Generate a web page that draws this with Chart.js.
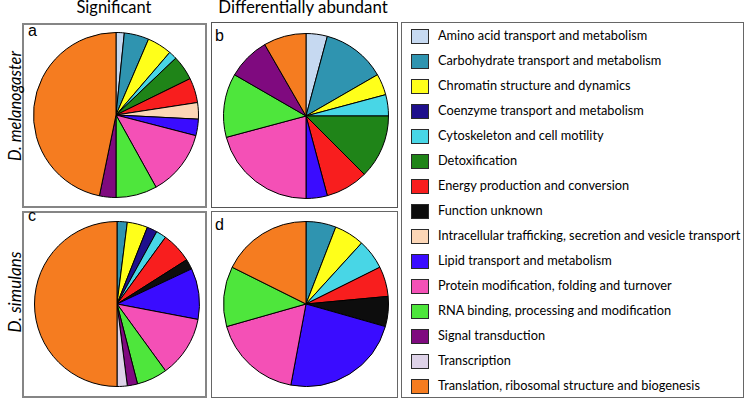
<!DOCTYPE html>
<html>
<head>
<meta charset="utf-8">
<script src="https://cdn.jsdelivr.net/npm/chart.js@4.4.1/dist/chart.umd.min.js"></script>
<style>
  html, body { margin: 0; padding: 0; background: #ffffff; }
  #root { position: relative; width: 750px; height: 399px; overflow: hidden; background: #fff; }
  .box { position: absolute; box-sizing: border-box; }
  .txt { position: absolute; white-space: nowrap; line-height: 1; color: #000; }
  canvas.pie { position: absolute; }
  .sw { position: absolute; box-sizing: border-box; border: 1px solid #2a2a2a; }
</style>
</head>
<body>
<div id="root"></div>
<script>
// ---------- DATA ----------
const categories = [
  "Amino acid transport and metabolism",
  "Carbohydrate transport and metabolism",
  "Chromatin structure and dynamics",
  "Coenzyme transport and metabolism",
  "Cytoskeleton and cell motility",
  "Detoxification",
  "Energy production and conversion",
  "Function unknown",
  "Intracellular trafficking, secretion and vesicle transport",
  "Lipid transport and metabolism",
  "Protein modification, folding and turnover",
  "RNA binding, processing and modification",
  "Signal transduction",
  "Transcription",
  "Translation, ribosomal structure and biogenesis"
];
const categoryColors = [
  "#c6d9f1", "#2f94b0", "#ffff1a", "#1e0f8c", "#48d6e6",
  "#1f8418", "#f81e1e", "#0d0d0d", "#fcd6b6", "#3a0cff",
  "#f450b6", "#4ee63c", "#7f0a7f", "#ded2e8", "#f57c20"
];
// counts per category (same order as categories)
const melanogasterSignificant  = [1, 3, 3, 0, 1, 3, 3, 0, 2, 2, 8, 5, 2, 0, 29];
const melanogasterDifferential = [1, 3, 1, 0, 1, 3, 2, 0, 0, 1, 5, 3, 2, 0, 2];
const simulansSignificant      = [0, 1, 2, 1, 1, 0, 3, 1, 0, 5, 6, 3, 1, 1, 25];
const simulansDifferential     = [0, 1, 1, 0, 1, 0, 1, 1, 0, 4, 3, 2, 0, 0, 3];
const columnTitles = ["Significant", "Differentially abundant"];
const rowTitles = ["D. melanogaster", "D. simulans"];
const panelLetters = ["a", "b", "c", "d"];

// ---------- LAYOUT ----------
const root = document.getElementById("root");
const mctx = document.createElement("canvas").getContext("2d");
function fitSize(text, family, style, target) {
  mctx.font = `${style} 100px ${family}`;
  const w = mctx.measureText(text).width;
  return 100 * target / w;
}
function addDiv(cls, css, text) {
  const d = document.createElement("div");
  d.className = cls;
  Object.assign(d.style, css);
  if (text !== undefined) d.textContent = text;
  root.appendChild(d);
  return d;
}
const LATO = "Lato, 'DejaVu Sans', sans-serif";
const ARIAL = "'Liberation Sans', Arial, sans-serif";
const LATO_BASE = 0.887; // baseline offset for line-height:1
const ARIAL_BASE = 0.847;

// panel boxes
addDiv("box", {left: "22px", top: "23px", width: "185px", height: "185px", border: "2px solid #858585"});
addDiv("box", {left: "211px", top: "22px", width: "187px", height: "186px", border: "1.5px solid #555"});
addDiv("box", {left: "22px", top: "211px", width: "185px", height: "187px", border: "2px solid #858585"});
addDiv("box", {left: "211px", top: "211px", width: "187px", height: "187px", border: "1.5px solid #666"});
addDiv("box", {left: "401px", top: "22px", width: "343px", height: "376px", border: "1.5px solid #666"});

// column titles
const titleCenters = [114, 303];
const titleTargets = [75, 170];
columnTitles.forEach((t, i) => {
  const s = fitSize(t, LATO, "normal", titleTargets[i]);
  addDiv("txt", {fontFamily: LATO, fontSize: s + "px", top: (14 - LATO_BASE * s) + "px", left: titleCenters[i] + "px", transform: "translateX(-50%)"}, t);
});
// row titles (rotated)
const rowCenters = [106, 292];
const rowTargets = [110, 81];
rowTitles.forEach((t, i) => {
  const s = fitSize(t, LATO, "italic", rowTargets[i]);
  addDiv("txt", {fontFamily: LATO, fontStyle: "italic", fontSize: s + "px", left: "15px", top: rowCenters[i] + "px", transform: "translate(-50%,-50%) rotate(-90deg)"}, t);
});

// panel letters
const letterPos = [[28, 37], [215, 42], [28, 222], [215, 231]];
panelLetters.forEach((l, i) => {
  const s = 16;
  addDiv("txt", {fontFamily: ARIAL, fontSize: s + "px", left: letterPos[i][0] + "px", top: (letterPos[i][1] - ARIAL_BASE * s) + "px"}, l);
});

// legend
const legendSize = fitSize(categories[8], LATO, "normal", 303);
categories.forEach((c, i) => {
  const cy = 35.5 + 25 * i;
  addDiv("sw", {left: "411px", top: (cy - 7) + "px", width: "18px", height: "15px", background: categoryColors[i]});
  const baseline = cy + 0.36 * legendSize;
  addDiv("txt", {fontFamily: LATO, fontSize: legendSize + "px", left: "438px", top: (baseline - LATO_BASE * legendSize) + "px"}, c);
});

// pies
const PIE = 166;
const pieCenters = [[116, 115], [305.5, 116], [116.5, 304], [306, 304]];
const pieData = [melanogasterSignificant, melanogasterDifferential, simulansSignificant, simulansDifferential];
pieData.forEach((vals, i) => {
  const cv = document.createElement("canvas");
  cv.className = "pie";
  cv.width = PIE; cv.height = PIE;
  cv.style.width = PIE + "px"; cv.style.height = PIE + "px";
  cv.style.left = (pieCenters[i][0] - PIE / 2) + "px";
  cv.style.top = (pieCenters[i][1] - PIE / 2) + "px";
  root.appendChild(cv);
  new Chart(cv, {
    type: "pie",
    data: {
      labels: categories,
      datasets: [{
        data: vals,
        backgroundColor: categoryColors,
        borderColor: "#000000",
        borderWidth: 1
      }]
    },
    options: {
      responsive: false,
      animation: false,
      layout: { padding: 0 },
      plugins: { legend: { display: false }, tooltip: { enabled: false } }
    }
  });
});
</script>
</body>
</html>
